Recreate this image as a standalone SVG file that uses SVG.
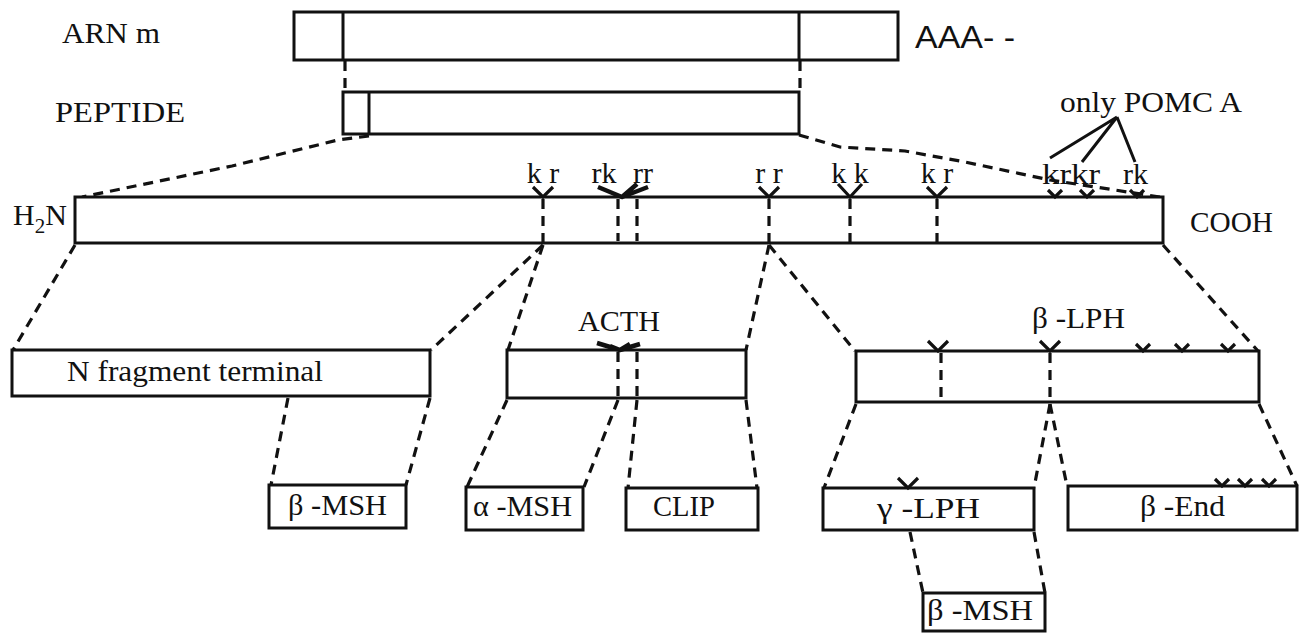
<svg xmlns="http://www.w3.org/2000/svg" width="1304" height="633" viewBox="0 0 1304 633">
<style>
.box{fill:#fff;stroke:#111;stroke-width:3}
.sol{fill:none;stroke:#111;stroke-width:3}
.dash{fill:none;stroke:#111;stroke-width:3.2;stroke-dasharray:10 7}
.mk{fill:none;stroke:#111;stroke-width:3.2;stroke-linejoin:miter}
.hv{fill:none;stroke:#111;stroke-width:4.5;stroke-linejoin:round}
.t{font-family:"Liberation Serif","Times New Roman",serif;font-size:30px;fill:#111}
.s{font-family:"Liberation Sans",Arial,sans-serif;font-size:31px;fill:#111}
</style>
<defs>
<path id="y" class="mk" d="M-10,-10 L0,0 L10,-10"/>
<path id="v" class="mk" d="M-7,-7 L0,0 L7,-7"/>
</defs>
<rect width="1304" height="633" fill="#fff"/>

<g id="connectors">
<path class="dash" d="M345,61 L345,92"/>
<path class="dash" d="M800,61 L800,92"/>
<path class="dash" d="M369,136 L338,140 L232,166 L82,197"/>
<path class="dash" d="M799,135 L840,147 L905,151 L965,162 L1050,180 L1160,197"/>
<path class="dash" d="M75,245 L13,350"/>
<path class="dash" d="M543,245 L431,350"/>
<path class="dash" d="M543,245 L508,350"/>
<path class="dash" d="M769,245 L746,350"/>
<path class="dash" d="M769,245 L855,351"/>
<path class="dash" d="M1163,245 L1258,351"/>
<path class="dash" d="M288,398 L271,485"/>
<path class="dash" d="M430,398 L406,485"/>
<path class="dash" d="M507,400 L467,487"/>
<path class="dash" d="M618,400 L584,487"/>
<path class="dash" d="M637,400 L628,488"/>
<path class="dash" d="M746,400 L757,488"/>
<path class="dash" d="M856,404 L824,488"/>
<path class="dash" d="M1050,404 L1034,488"/>
<path class="dash" d="M1050,404 L1067,486"/>
<path class="dash" d="M1259,404 L1297,486"/>
<path class="dash" d="M910,532 L923,593"/>
<path class="dash" d="M1034,532 L1045,593"/>
</g>

<g id="arn">
<rect class="box" x="294" y="12" width="604" height="48"/>
<path class="sol" d="M343,12 V60 M799,12 V60"/>
<text class="t" x="62" y="43" textLength="98" lengthAdjust="spacingAndGlyphs">ARN m</text>
<text class="s" x="915" y="48" textLength="100" lengthAdjust="spacingAndGlyphs">AAA- -</text>
</g>

<g id="peptide">
<rect class="box" x="343" y="92" width="456" height="42"/>
<path class="sol" d="M369,92 V134"/>
<text class="t" x="55" y="122" textLength="130" lengthAdjust="spacingAndGlyphs">PEPTIDE</text>
</g>

<g id="pomc">
<rect class="box" x="75" y="197" width="1088" height="46"/>
<text class="t" x="13" y="225">H<tspan font-size="21" dy="8">2</tspan><tspan dy="-8">N</tspan></text>
<text class="t" x="1190" y="232" textLength="83" lengthAdjust="spacingAndGlyphs">COOH</text>
<path class="dash" d="M543,199 V243 M618,199 V241 M637,199 V241 M769,199 V243 M850,199 V243 M937,199 V243"/>
<use href="#y" x="543" y="197"/>
<path class="hv" d="M598,187 L622,197 L637,184 M622,197 L648,187"/>
<use href="#y" x="769" y="197"/>
<path class="mk" d="M838,184 L850,197 L862,184"/>
<use href="#y" x="937" y="197"/>
<use href="#v" x="1055" y="197"/>
<use href="#v" x="1087" y="197"/>
<use href="#v" x="1137" y="197"/>
<text class="t" x="543" y="183" text-anchor="middle">k r</text>
<text class="t" x="604" y="183" text-anchor="middle">rk</text>
<text class="t" x="643" y="183" text-anchor="middle">rr</text>
<text class="t" x="769" y="183" text-anchor="middle">r r</text>
<text class="t" x="850" y="183" text-anchor="middle">k k</text>
<text class="t" x="937" y="183" text-anchor="middle">k r</text>
<text class="t" x="1042" y="184" textLength="58" lengthAdjust="spacingAndGlyphs">krkr</text>
<text class="t" x="1123" y="184">rk</text>
</g>

<g id="only-pomc-a">
<text class="t" x="1060" y="112" textLength="182" lengthAdjust="spacingAndGlyphs">only POMC A</text>
<path class="sol" d="M1117,117 L1050,158 M1117,117 L1082,162 M1117,117 L1135,162"/>
</g>

<g id="n-fragment">
<rect class="box" x="12" y="350" width="418" height="46"/>
<text class="t" x="67" y="381" textLength="256" lengthAdjust="spacingAndGlyphs">N fragment terminal</text>
</g>

<g id="acth">
<rect class="box" x="507" y="350" width="239" height="48"/>
<path class="dash" d="M618,352 V398 M637,352 V398"/>
<path class="hv" d="M597,343 L620,350 L640,344 M610,346 L620,350 L630,344"/>
<text class="t" x="578" y="331" textLength="82" lengthAdjust="spacingAndGlyphs">ACTH</text>
</g>

<g id="beta-lph">
<rect class="box" x="856" y="351" width="403" height="51"/>
<path class="dash" d="M941,353 V402 M1050,353 V402"/>
<use href="#y" x="938" y="351"/>
<use href="#y" x="1050" y="351"/>
<use href="#v" x="1143" y="351"/>
<use href="#v" x="1182" y="351"/>
<use href="#v" x="1228" y="351"/>
<text class="t" x="1032" y="328" textLength="93" lengthAdjust="spacingAndGlyphs">β -LPH</text>
</g>

<g id="beta-msh-1">
<rect class="box" x="269" y="485" width="137" height="43"/>
<text class="t" x="288" y="515" textLength="99" lengthAdjust="spacingAndGlyphs">β -MSH</text>
</g>

<g id="alpha-msh">
<rect class="box" x="466" y="487" width="117" height="43"/>
<text class="t" x="473" y="516" textLength="99" lengthAdjust="spacingAndGlyphs">α -MSH</text>
</g>

<g id="clip">
<rect class="box" x="626" y="488" width="132" height="42"/>
<text class="t" x="653" y="516" textLength="62" lengthAdjust="spacingAndGlyphs">CLIP</text>
</g>

<g id="gamma-lph">
<rect class="box" x="823" y="488" width="211" height="42"/>
<use href="#y" x="908" y="488"/>
<text class="t" x="877" y="518" textLength="103" lengthAdjust="spacingAndGlyphs">γ -LPH</text>
</g>

<g id="beta-end">
<rect class="box" x="1068" y="486" width="229" height="44"/>
<use href="#v" x="1222" y="486"/>
<use href="#v" x="1245" y="486"/>
<use href="#v" x="1269" y="486"/>
<text class="t" x="1140" y="516" textLength="85" lengthAdjust="spacingAndGlyphs">β -End</text>
</g>

<g id="beta-msh-2">
<rect class="box" x="923" y="593" width="122" height="38"/>
<text class="t" x="927" y="620" textLength="106" lengthAdjust="spacingAndGlyphs">β -MSH</text>
</g>
</svg>
